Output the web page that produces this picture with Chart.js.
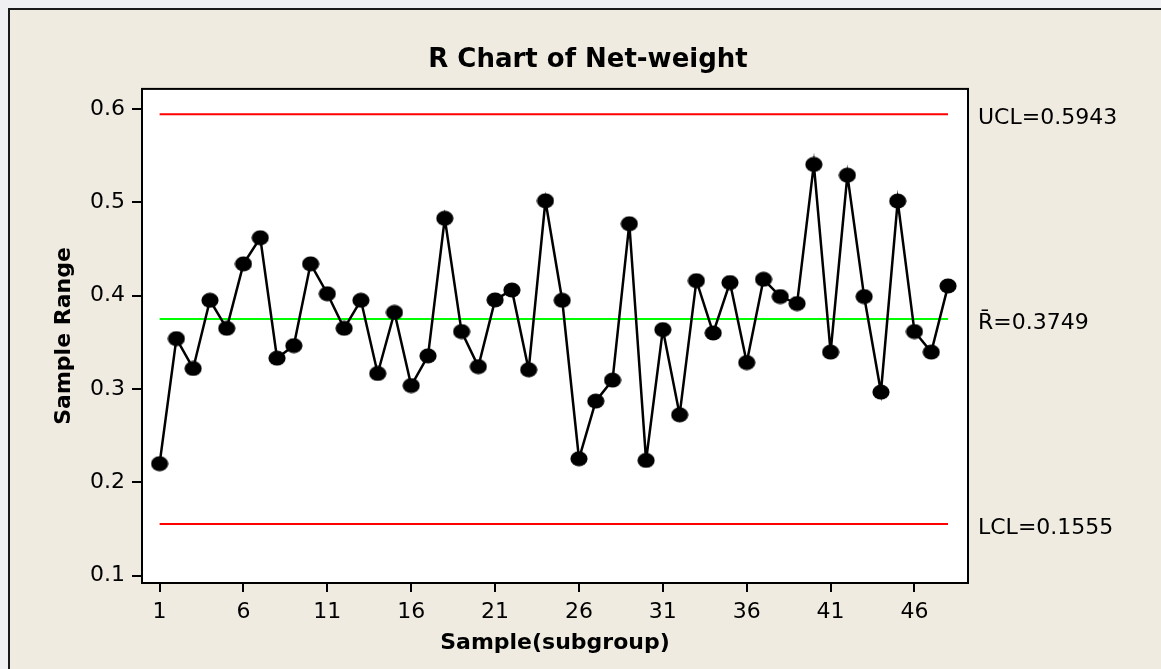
<!DOCTYPE html>
<html>
<head>
<meta charset="utf-8">
<script src="https://cdn.jsdelivr.net/npm/chart.js@4"></script>
<style>
  html, body { margin: 0; padding: 0; background: #F0F0F2; }
  #c { display: block; }
</style>
</head>
<body>
<canvas id="c" width="1161" height="669"></canvas>
<script>
// ---- data ----
const subgroups = [1,2,3,4,5,6,7,8,9,10,11,12,13,14,15,16,17,18,19,20,21,22,23,24,25,26,27,28,29,30,31,32,33,34,35,36,37,38,39,40,41,42,43,44,45,46,47,48];
const sampleRange = [0.220,0.354,0.322,0.395,0.365,0.434,0.462,0.333,0.3465,0.434,
                     0.402,0.365,0.395,0.3166,0.382,0.3037,0.3355,0.4828,0.3615,0.324,
                     0.3954,0.406,0.3206,0.5016,0.395,0.2253,0.287,0.3095,0.477,0.2235,
                     0.3636,0.2724,0.416,0.360,0.414,0.3283,0.4175,0.399,0.3915,0.5405,
                     0.3395,0.529,0.399,0.2967,0.5013,0.3615,0.3395,0.4104];
const controlValues = [0.5943, 0.3749, 0.1555];
const controlLabels = ['UCL=0.5943', 'R\u0304=0.3749', 'LCL=0.1555'];
const xTicks = [1,6,11,16,21,26,31,36,41,46];
const yTicks = [0.1,0.2,0.3,0.4,0.5,0.6];

// ---- styles ----
const FONT = "'DejaVu Sans', Verdana, sans-serif";
const dot = document.createElement('canvas');
dot.width = 18; dot.height = 16;
(function(){
  const g = dot.getContext('2d');
  g.fillStyle = '#000';
  g.beginPath();
  g.ellipse(9, 8, 8.6, 7.4, 0, 0, Math.PI * 2);
  g.fill();
})();

const points = subgroups.map((s, i) => ({x: s, y: sampleRange[i]}));
const first = subgroups[0], last = subgroups[subgroups.length - 1];
const lineData = v => [{x: first, y: v}, {x: last, y: v}];

const framePlugin = {
  id: 'frame',
  beforeDraw(chart) {
    const ctx = chart.ctx, a = chart.chartArea;
    ctx.save();
    ctx.fillStyle = '#F0F0F2';
    ctx.fillRect(0, 0, chart.width, chart.height);
    ctx.fillStyle = '#EFEBE0';
    ctx.fillRect(8, 8, chart.width - 8, chart.height - 8);
    ctx.strokeStyle = '#1a1a1a';
    ctx.lineWidth = 2;
    ctx.beginPath();
    ctx.moveTo(9, chart.height);
    ctx.lineTo(9, 9);
    ctx.lineTo(chart.width, 9);
    ctx.stroke();
    ctx.fillStyle = '#FFFFFF';
    ctx.fillRect(a.left, a.top, a.right - a.left, a.bottom - a.top);
    ctx.restore();
  },
  afterDraw(chart) {
    const ctx = chart.ctx, a = chart.chartArea;
    ctx.save();
    ctx.strokeStyle = '#000';
    ctx.lineWidth = 2;
    ctx.strokeRect(a.left, a.top, a.right - a.left, a.bottom - a.top);
    const ys = chart.scales.y;
    ctx.fillStyle = '#000';
    ctx.font = '22px ' + FONT;
    ctx.textAlign = 'left';
    ctx.textBaseline = 'middle';
    controlValues.forEach((v, i) => {
      ctx.fillText(controlLabels[i], a.right + 10, ys.getPixelForValue(v) + 4);
    });
    ctx.restore();
  }
};

new Chart(document.getElementById('c'), {
  type: 'line',
  data: {
    datasets: [
      { data: points, borderColor: '#000', borderWidth: 2.5, pointStyle: dot,
        pointRadius: 8, pointBackgroundColor: '#000', pointBorderWidth: 0, tension: 0 },
      { data: lineData(controlValues[0]), borderColor: '#FF0000', borderWidth: 2, pointRadius: 0 },
      { data: lineData(controlValues[1]), borderColor: '#00FF00', borderWidth: 2, pointRadius: 0 },
      { data: lineData(controlValues[2]), borderColor: '#FF0000', borderWidth: 2, pointRadius: 0 }
    ]
  },
  options: {
    responsive: false,
    animation: false,
    devicePixelRatio: 1,
    layout: { padding: { left: 15, top: 0, right: 0, bottom: 0 } },
    plugins: {
      legend: { display: false },
      tooltip: { enabled: false },
      title: {
        display: true, text: 'R Chart of Net-weight', color: '#000',
        font: { family: FONT, size: 26, weight: 'bold', lineHeight: 1.2 },
        padding: { top: 45, bottom: 12.7 }
      }
    },
    scales: {
      x: {
        type: 'linear', min: -0.05, max: 49.19,
        afterBuildTicks: s => { s.ticks = xTicks.map(v => ({value: v})); },
        afterFit: s => { s.height = 86; },
        grid: { drawOnChartArea: false, drawTicks: true, tickLength: 9, color: '#000', lineWidth: 2 },
        border: { display: false },
        ticks: { color: '#000', padding: 7, maxRotation: 0, font: { family: FONT, size: 22 },
                 callback: v => String(v) },
        title: { display: true, text: 'Sample(subgroup)', color: '#000',
                 font: { family: FONT, size: 22, weight: 'bold', lineHeight: 1.2 },
                 padding: { top: 0, bottom: 13 } }
      },
      y: {
        type: 'linear', min: 0.0922, max: 0.6214,
        afterBuildTicks: s => { s.ticks = yTicks.map(v => ({value: v})); },
        afterFit: s => { s.width = 127; },
        grid: { drawOnChartArea: false, drawTicks: true, tickLength: 10, color: '#000', lineWidth: 2 },
        border: { display: false },
        ticks: { color: '#000', padding: 7, font: { family: FONT, size: 22 },
                 callback: v => String(Math.round(v * 10) / 10) },
        title: { display: true, text: 'Sample Range', color: '#000',
                 font: { family: FONT, size: 22, weight: 'bold', lineHeight: 1.2 },
                 padding: { top: 36, bottom: 0 } }
      },
      y2: {
        type: 'linear', position: 'right', display: true,
        afterFit: s => { s.width = 193; },
        grid: { display: false }, border: { display: false },
        ticks: { display: false }
      }
    }
  },
  plugins: [framePlugin]
});
</script>
</body>
</html>
